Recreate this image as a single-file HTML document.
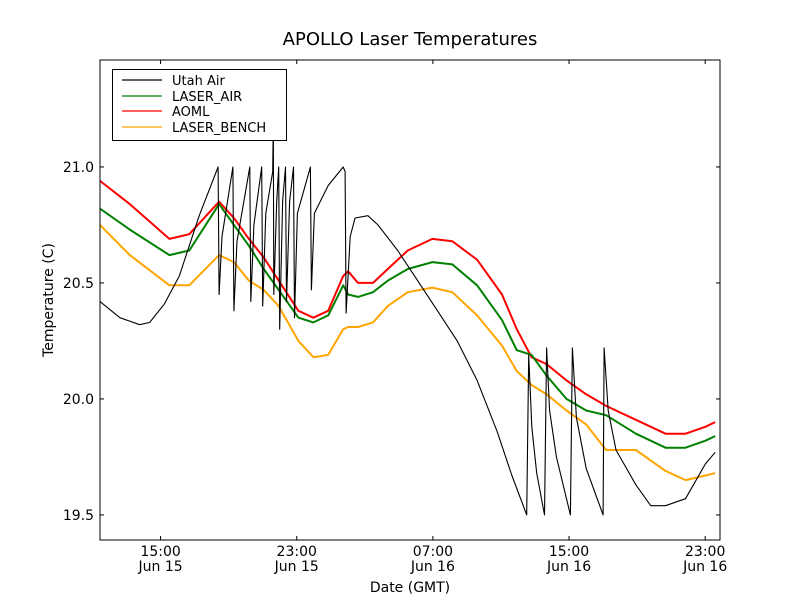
<!DOCTYPE html>
<html><head><meta charset="utf-8"><style>
body{margin:0;background:#fff;font-family:"Liberation Sans","DejaVu Sans",sans-serif}
</style></head><body>
<svg id="chart" width="800" height="600" xmlns="http://www.w3.org/2000/svg" font-family="DejaVu Sans, Liberation Sans, sans-serif">
<rect width="800" height="600" fill="#fff"/>
<text x="410" y="45" font-size="18" text-anchor="middle">APOLLO Laser Temperatures</text>
<g id="plot"></g>
<text x="410" y="592" font-size="14" text-anchor="middle">Date (GMT)</text>
<text transform="translate(53,300) rotate(-90)" font-size="14" text-anchor="middle">Temperature (C)</text>
</svg>
<script>
const gridHours=[11.44,13.19,15.52,16.69,18.44,19.31,20.19,21.06,21.94,23.10,23.98,24.85,25.73,26.02,26.60,27.48,28.35,29.52,30.97,32.14,33.60,35.06,35.93,36.80,37.68,38.85,40.01,41.18,42.93,44.67,45.84,47.01,47.59];
const aomlValues=[20.94,20.84,20.69,20.71,20.85,20.78,20.69,20.61,20.51,20.38,20.35,20.38,20.53,20.55,20.50,20.50,20.56,20.64,20.69,20.68,20.60,20.45,20.30,20.18,20.15,20.08,20.02,19.97,19.91,19.85,19.85,19.88,19.90];
const laserAirValues=[20.82,20.73,20.62,20.64,20.84,20.75,20.66,20.56,20.47,20.35,20.33,20.36,20.49,20.45,20.44,20.46,20.51,20.56,20.59,20.58,20.49,20.34,20.21,20.19,20.10,20.00,19.95,19.93,19.85,19.79,19.79,19.82,19.84];
const laserBenchValues=[20.75,20.62,20.49,20.49,20.62,20.59,20.51,20.47,20.40,20.25,20.18,20.19,20.30,20.31,20.31,20.33,20.40,20.46,20.48,20.46,20.36,20.23,20.12,20.06,20.02,19.95,19.89,19.78,19.78,19.69,19.65,19.67,19.68];
const utahHours=[11.44,12.61,13.77,14.36,15.23,16.10,17.27,18.38,18.44,18.61,19.25,19.31,19.49,20.24,20.30,20.48,20.94,21.00,21.18,21.59,21.62,21.65,21.82,21.94,22.00,22.17,22.34,22.40,22.58,22.81,22.87,23.04,23.80,23.86,24.04,24.85,25.73,25.84,25.90,26.14,26.43,27.18,27.77,28.93,30.10,31.27,32.43,33.60,34.77,35.64,36.51,36.63,36.81,37.10,37.56,37.68,37.86,38.26,39.08,39.20,39.43,40.01,41.00,41.06,41.30,41.76,42.93,43.80,44.67,45.84,47.01,47.59];
const utahValues=[20.42,20.35,20.32,20.33,20.41,20.53,20.79,21.00,20.45,20.70,21.00,20.38,20.68,21.00,20.42,20.75,21.00,20.40,20.80,20.98,21.20,20.45,20.85,21.00,20.30,20.85,21.00,20.42,20.85,21.00,20.35,20.80,21.00,20.47,20.80,20.92,21.00,20.98,20.37,20.70,20.78,20.79,20.75,20.64,20.51,20.38,20.25,20.08,19.86,19.67,19.50,20.19,19.88,19.68,19.50,20.22,19.95,19.75,19.50,20.22,19.92,19.70,19.50,20.22,19.95,19.78,19.63,19.54,19.54,19.57,19.72,19.77];
const yTicks=[19.5,20.0,20.5,21.0];
const yTickLabels=["19.5","20.0","20.5","21.0"];
const xTicks=[15,23,31,39,47];
const xTickLabels=[["15:00","Jun 15"],["23:00","Jun 15"],["07:00","Jun 16"],["15:00","Jun 16"],["23:00","Jun 16"]];
const seriesNames=["Utah Air","LASER_AIR","AOML","LASER_BENCH"];

const L=100,R=720,T=60,B=540,xMin=11.44,xMax=47.87,yMin=19.392,yMax=21.461;
const sx=h=>L+(h-xMin)/(xMax-xMin)*(R-L);
const sy=v=>B-(v-yMin)/(yMax-yMin)*(B-T);
const NS="http://www.w3.org/2000/svg";
const g=document.getElementById('plot');
function mk(tag,attrs,parent){const e=document.createElementNS(NS,tag);for(const k in attrs)e.setAttribute(k,attrs[k]);(parent||g).appendChild(e);return e;}
const defs=mk('defs',{});
const cp=mk('clipPath',{id:'clip'},defs);mk('rect',{x:L,y:T,width:R-L,height:B-T},cp);
function line(xs,ys,color,name,w){
 const d=xs.map((h,i)=>(i?'L':'M')+sx(h).toFixed(1)+' '+sy(ys[i]).toFixed(1)).join(' ');
 const p=mk('path',{d:d,fill:'none',stroke:color,'stroke-width':w,'stroke-linejoin':'round','clip-path':'url(#clip)'});
 
 
}
line(gridHours,laserBenchValues,'#ffa500','laser-bench-line',2);
line(gridHours,aomlValues,'#ff0000','aoml-line',2);
line(gridHours,laserAirValues,'#008000','laser-air-line',2);
line(utahHours,utahValues,'#000000','utah-air-line',1.1);
const frame=mk('rect',{x:L,y:T,width:R-L,height:B-T,fill:'none',stroke:'#000','stroke-width':1});


yTicks.forEach((v,i)=>{
 const y=sy(v);
 mk('line',{x1:L,x2:L+4,y1:y,y2:y,stroke:'#000'});
 mk('line',{x1:R,x2:R-4,y1:y,y2:y,stroke:'#000'});
 const t=mk('text',{x:L-6,y:y+5,'font-size':14,'text-anchor':'end'});
 t.textContent=yTickLabels[i];
 
 
});
xTicks.forEach((h,i)=>{
 const x=sx(h);
 mk('line',{x1:x,x2:x,y1:B,y2:B-4,stroke:'#000'});
 mk('line',{x1:x,x2:x,y1:T,y2:T+4,stroke:'#000'});
 xTickLabels[i].forEach((s,j)=>{
  const t=mk('text',{x:x,y:B+16+j*15,'font-size':14,'text-anchor':'middle'});
  t.textContent=s;
  
  
 });
});
const lg=mk('g',{});


mk('rect',{x:112.5,y:69.5,width:174,height:71,fill:'#fff',stroke:'#000'},lg);
const colors=['#000000','#008000','#ff0000','#ffa500'];
seriesNames.forEach((n,i)=>{
 const y=80+Math.round(i*15.5);
 mk('line',{x1:122,x2:162,y1:y,y2:y,stroke:colors[i],'stroke-width':1.3},lg);
 const t=mk('text',{x:172,y:y+5,'font-size':13},lg);
 t.textContent=n;
 
 
});
</script>
</body></html>
